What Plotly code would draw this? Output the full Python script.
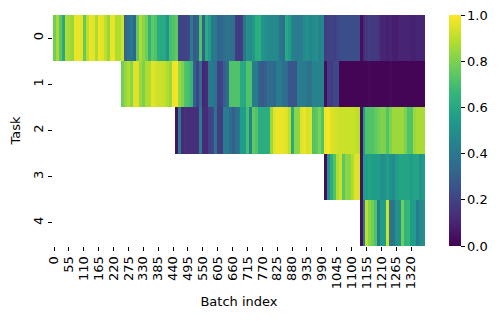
import numpy as np
import plotly.graph_objects as go

# one value per 11 batches
task_0 = [.78,.87,.74,.6,.88,.86,.84,.97,.97,.96,.76,.9,.97,.96,.88,.97,.96,.9,.84,.97,.97,.88,.88,.93,
          .32,.36,.4,.33,.75,.88,.82,.78,.65,.75,.72,.62,.6,.6,.52,.7,.72,.75,
          .2,.2,.2,.22,.42,.28,.3,.72,.3,.62,.55,.4,.4,.33,.33,.36,.38,.37,.36,.18,.17,.18,.4,.5,.48,.53,.62,.63,
          .52,.5,.48,.47,.48,.47,.38,.36,.6,.56,.45,.42,.42,.42,
          .48,.5,.46,.48,.5,.45,.47,.18,.2,.2,.19,.22,.24,.24,.24,.24,.24,.24,.24,.04,.12,.16,.18,.17,.17,.15,
          .1,.1,.09,.1,.08,.08,.1,.1,.1,.1,.09,.09,.1,.1,.1]
task_1 = [.78,.84,.88,.82,.95,.95,.85,.8,.88,.88,.96,.94,.92,.92,.91,.88,.85,.98,.98,.85,.8,.72,.7,.66,
          .3,.2,.35,.1,.12,.4,.4,.38,.2,.2,.3,.35,.72,.72,.72,.72,.6,.6,.72,.72,.42,.42,.3,.28,.3,.35,.35,.33,
          .42,.42,.36,.36,.27,.27,.27,.42,.42,.42,.38,.38,.45,.45,.45,.45,.04,.18,.18,.22,.22,
          .01,.01,.01,.01,.01,.01,.01,.01,.01,.01,.02,.01,.01,.01,.01,.01,.01,.02,.01,.01,.01,.01,.01,.01,.01,.01,.01,.01,.01]
task_2 = [.05,.42,.12,.14,.13,.13,.13,.13,.42,.12,.12,.2,.22,.38,.18,.18,.42,.42,.35,.3,.36,.38,.55,.55,.7,.45,.75,.72,
          .62,.62,.62,.62,.85,.96,.97,.97,.97,.95,.9,.6,.82,.82,.95,.97,.94,.95,.72,.74,.8,.72,.98,.99,.95,.94,.93,
          .92,.92,.92,.92,.92,.91,.9,.04,.55,.72,.72,.72,.75,.78,.8,.8,.72,.8,.85,.85,.85,.85,.8,.72,.72,.85,.87,.87,.87]
task_3 = [.03,.5,.62,.72,.88,.92,.74,.82,.82,.88,.95,.95,.05,.55,.56,.58,.56,.55,.56,.5,.5,.56,.5,.48,.55,.58,.58,.58,.58,.55,.58,.58,.52,.55]
task_4 = [.05,.42,.9,.82,.78,.72,.42,.55,.55,.92,.38,.38,.5,.5,.78,.65,.66,.55,.55,.42,.48,.5]
n_columns = 125
tasks = [0, 1, 2, 3, 4]
batch_ticks = list(range(0, 1321, 55))
cbar_ticks = [0.0, 0.2, 0.4, 0.6, 0.8, 1.0]

rows = [task_0, task_1, task_2, task_3, task_4]
z = [[None] * (n_columns - len(r)) + r for r in rows]
x = np.arange(n_columns) * 11 + 1.8

fig = go.Figure(go.Heatmap(
    z=z,
    x=x,
    y=tasks,
    colorscale='Viridis',
    zmin=0,
    zmax=1,
    hoverongaps=False,
    colorbar=dict(
        thickness=12,
        len=1,
        x=1.0645,
        xanchor='left',
        xpad=0,
        y=1,
        yanchor='top',
        ypad=0,
        outlinewidth=0,
        ticks='outside',
        ticklen=4,
        tickwidth=1,
        tickcolor='black',
        tickvals=cbar_ticks,
        ticktext=[f'{v:.1f}' for v in cbar_ticks],
        tickfont=dict(size=13, color='black'),
        ticklabeloverflow='allow',
    ),
))

fig.update_xaxes(
    title=dict(text='Batch index', font=dict(size=13, color='black'), standoff=8),
    range=[-3.7, 1371.3],
    tickvals=batch_ticks,
    tickangle=-90,
    ticks='outside',
    ticklen=4,
    tickcolor='black',
    tickfont=dict(size=13, color='black'),
    showgrid=False,
    zeroline=False,
    showline=False,
)
fig.update_yaxes(
    title=dict(text='Task', font=dict(size=13, color='black'), standoff=8),
    range=[4.5, -0.5],
    tickvals=tasks,
    tickangle=-90,
    ticks='outside',
    ticklen=4,
    tickcolor='black',
    tickfont=dict(size=13, color='black'),
    showgrid=False,
    zeroline=False,
    showline=False,
)
# the page body adds 8px on the top and left, so the figure is smaller than the window
fig.update_layout(
    width=493,
    height=313,
    margin=dict(l=45, r=76, t=7, b=75),
    font=dict(family='DejaVu Sans'),
    paper_bgcolor='white',
    plot_bgcolor='white',
)

fig.write_html("out.html")
